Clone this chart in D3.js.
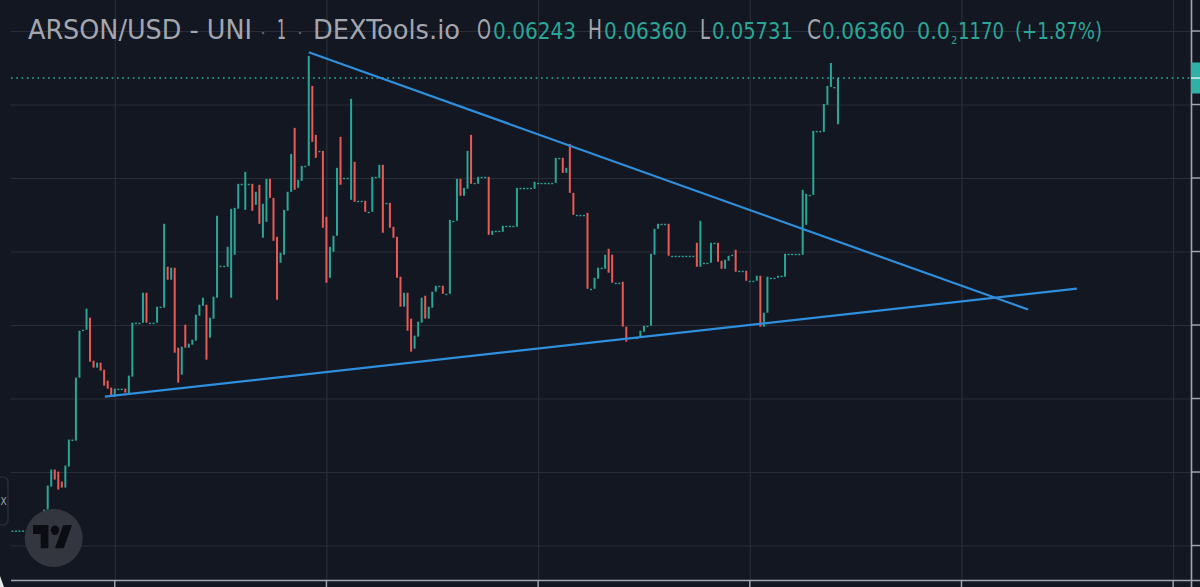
<!DOCTYPE html>
<html>
<head>
<meta charset="utf-8">
<script src="https://d3js.org/d3.v7.min.js"></script>
<style>
  html, body { margin: 0; background: #131722; overflow: hidden; }
  text { font-family: "DejaVu Sans", sans-serif; font-stretch: condensed; }
</style>
</head>
<body>
<svg id="chart" width="1200" height="587"></svg>
<script>
// candles, one per minute, bar index = position in the array
const opens = [
  .00204,.00204,.00204,.00204,.00204,.00204,.00204,.00204,.00204,.00204,
  .00489,.00802,.01033,.01006,.00870,.00788,.01074,.01441,.01427,.02284,
  .02936,.02936,.03099,.02515,.02420,.02488,.02392,.02243,.02148,.02025,
  .02134,.02134,.02134,.02066,.02297,.03031,.03031,.03031,.03439,.03031,
  .03031,.03031,.03249,.03235,.03792,.03616,.03779,.02691,.02324,.03004,
  .02691,.02732,.02787,.03126,.03262,.03276,.02827,.03086,.03371,.03806,
  .03806,.03792,.03371,.03956,.04581,.04921,.04567,.04921,.04921,.04635,
  .04907,.04187,.04404,.04989,.04730,.04200,.03847,.03956,.04554,.04812,
  .05682,.04866,.04961,.05165,.05165,.06253,.05587,.05369,.05369,.04472,
  .03643,.03996,.04214,.05560,.05002,.05002,.04703,.05220,.04690,.04690,
  .04690,.04540,.04540,.05016,.05002,.05179,.04662,.04662,.04336,.04200,
  .03657,.03249,.03439,.03086,.02678,.02841,.03031,.03398,.03086,.03235,
  .03453,.03534,.03534,.03425,.03425,.04418,.04418,.04989,.04758,.04853,
  .05587,.04934,.04921,.05016,.05016,.05016,.04227,.04282,.04282,.04268,
  .04350,.04350,.04350,.04336,.04866,.04866,.04866,.04866,.04853,.04934,
  .04934,.04934,.04934,.04934,.04934,.05274,.05274,.05070,.05464,.04798,
  .04499,.04499,.04499,.04526,.03493,.03493,.03629,.03779,.03765,.04037,
  .03956,.03575,.03575,.03589,.02977,.02827,.02827,.02827,.02827,.02909,
  .02990,.02990,.03956,.04309,.04377,.04377,.04377,.03942,.03942,.03942,
  .03942,.03942,.03942,.03942,.04119,.03792,.03847,.03847,.03847,.04119,
  .04119,.03874,.03765,.03874,.03956,.04024,.03738,.03738,.03738,.03602,
  .03602,.03602,.03670,.02977,.03167,.03643,.03643,.03643,.03670,.03657,
  .03969,.03969,.03969,.03969,.03956,.04363,.04771,.04771,.05641,.05641,
  .05628,.05995,.06239,.06239,.06243
]
const closes = [
  .00204,.00204,.00204,.00204,.00204,.00204,.00204,.00204,.00204,.00489,
  .00816,.01033,.00897,.00761,.00788,.01087,.01441,.01441,.02284,.02922,
  .02936,.03222,.02501,.02420,.02488,.02379,.02175,.02134,.02025,.02134,
  .02134,.02134,.02080,.02311,.03031,.03031,.03031,.03439,.03031,.03031,
  .03031,.03249,.03249,.04377,.03616,.03779,.02623,.02216,.02705,.02691,
  .02746,.02800,.03140,.03276,.03371,.02528,.03099,.03385,.04486,.03806,
  .03806,.04064,.04581,.04594,.04921,.04921,.05084,.04921,.04554,.04812,
  .04377,.04649,.04989,.04730,.04146,.03344,.03983,.04567,.04812,.05328,
  .04839,.04975,.05165,.05165,.06661,.05492,.05274,.05369,.04323,.03575,
  .04064,.04214,.05138,.04907,.05002,.05002,.06076,.04676,.04690,.04690,
  .04540,.04540,.05016,.05016,.05179,.04255,.04662,.04323,.04187,.03643,
  .03249,.03439,.02922,.02637,.02855,.03045,.03371,.03086,.03249,.03453,
  .03534,.03534,.03425,.03425,.04431,.04418,.04989,.04758,.04866,.05369,
  .04921,.04934,.05016,.05016,.05016,.04227,.04282,.04282,.04282,.04350,
  .04350,.04350,.04350,.04866,.04866,.04866,.04866,.04866,.04948,.04934,
  .04934,.04934,.04934,.04934,.05274,.05274,.05070,.05138,.04798,.04499,
  .04499,.04499,.04499,.03493,.03493,.03643,.03779,.03779,.03956,.03711,
  .03575,.03575,.03575,.02977,.02773,.02827,.02827,.02827,.02922,.02990,
  .02990,.03969,.04309,.04377,.04377,.04377,.03942,.03942,.03942,.03942,
  .03942,.03942,.03942,.03942,.03792,.04418,.03847,.03847,.04119,.04119,
  .03861,.03765,.03888,.03942,.03956,.03724,.03738,.03738,.03602,.03602,
  .03602,.03670,.02977,.03167,.03657,.03643,.03643,.03670,.03670,.03969,
  .03969,.03969,.03969,.03969,.04839,.04785,.04771,.05641,.05641,.05641,
  .06008,.06253,.06565,.06239,.06360
]
const lastLow = 0.05731

const priceTicks = [0, 0.01, 0.02, 0.03, 0.04, 0.05, 0.06, 0.07]
const timeTicks = [29, 89, 149, 209, 269, 329]
const trendDown = [[84, 0.0671], [287.9, 0.0321]]
const trendUp = [[26.2, 0.02025], [301.7, 0.03495]]

const bg = '#131722'
const green = '#2ba596'
const red = '#ea5a55'
const grey = '#a3a6af'
const blue = '#2f8fdc'

const svg = d3.select('#chart')
svg.append('rect').attr('width', 1200).attr('height', 587).attr('fill', bg)

const x = d3.scaleLinear().domain([0, 340]).range([12.42, 12.42 + 340 * 3.528])
const y = d3.scaleLinear().domain([0, 0.07]).range([545.5, 31])

// grid, drawn by the axes with the labels taken off
const gridY = svg.append('g').attr('transform', 'translate(11,0)')
  .call(d3.axisRight(y).tickValues(priceTicks).tickSize(1189).tickFormat(''))
const gridX = svg.append('g').attr('transform', 'translate(0,0)')
  .call(d3.axisBottom(x).tickValues(timeTicks).tickSize(587).tickFormat(''))
svg.selectAll('.domain').remove()
gridY.selectAll('line').attr('stroke', '#2a2d37').attr('stroke-width', 1.2)
gridX.selectAll('line').attr('stroke', '#2a2d37').attr('stroke-width', 1.2)

// last price line
svg.append('line')
  .attr('x1', 11).attr('x2', 1191)
  .attr('y1', y(closes[closes.length - 1])).attr('y2', y(closes[closes.length - 1]))
  .attr('stroke', '#35b3a4').attr('stroke-width', 1.5).attr('stroke-dasharray', '1.6 3.7')

// candles
svg.append('g').selectAll('rect')
  .data(opens)
  .join('rect')
  .attr('x', (d, i) => x(i) - 1)
  .attr('width', 2)
  .attr('y', (d, i) => y(Math.max(d, closes[i])))
  .attr('height', (d, i) => {
    const low = i === opens.length - 1 ? lastLow : Math.min(d, closes[i])
    return Math.max(y(low) - y(Math.max(d, closes[i])), 1.4)
  })
  .attr('fill', (d, i) => closes[i] < d ? red : green)

// trend lines
const line = d3.line().x(d => x(d[0])).y(d => y(d[1]))
svg.selectAll('path.trend')
  .data([trendDown, trendUp])
  .join('path')
  .attr('class', 'trend')
  .attr('d', line)
  .attr('fill', 'none')
  .attr('stroke', blue)
  .attr('stroke-width', 2.2)

// right and bottom scales
svg.append('line').attr('x1', 11).attr('x2', 1200).attr('y1', 580.5).attr('y2', 580.5)
  .attr('stroke', grey).attr('stroke-width', 1.6)
svg.append('line').attr('x1', 1191.5).attr('x2', 1191.5).attr('y1', 0).attr('y2', 587)
  .attr('stroke', grey).attr('stroke-width', 1.6)
svg.append('g').selectAll('line')
  .data(priceTicks)
  .join('line')
  .attr('x1', 1191.5).attr('x2', 1200).attr('y1', d => y(d)).attr('y2', d => y(d))
  .attr('stroke', grey).attr('stroke-width', 1.4)
svg.append('g').selectAll('line')
  .data(timeTicks)
  .join('line')
  .attr('x1', d => x(d)).attr('x2', d => x(d)).attr('y1', 580.5).attr('y2', 587)
  .attr('stroke', grey).attr('stroke-width', 1.4)

// last price tag on the scale
svg.append('rect').attr('x', 1191).attr('y', 62.5).attr('width', 9).attr('height', 31)
  .attr('fill', '#2fb2a3')
svg.append('rect').attr('x', 1191).attr('y', y(0.0636) - 0.7).attr('width', 9).attr('height', 1.4)
  .attr('fill', '#e6f2f0')

// header
const header = [
  ['ARSON/USD - UNI', 28, 224, grey],
  ['1', 277, 9, grey],
  ['DEXTools.io', 313, 147, grey],
  ['O', 477, 14, grey],
  ['0.06243', 493, 83, green],
  ['H', 588, 14, grey],
  ['0.06360', 604, 83, green],
  ['L', 700, 10, grey],
  ['0.05731', 712, 81, green],
  ['C', 807, 14, grey],
  ['0.06360', 822, 83, green],
  ['0.0', 917, 33, green],
  ['1170', 958, 46, green],
  ['(+1.87%)', 1015, 87, green]
]
svg.append('g').selectAll('text')
  .data(header)
  .join('text')
  .attr('x', d => d[1])
  .attr('y', 38.5)
  .attr('font-size', d => d[3] === grey ? 26 : 23)
  .attr('textLength', d => d[2])
  .attr('lengthAdjust', 'spacingAndGlyphs')
  .attr('fill', d => d[3])
  .text(d => d[0])
svg.append('text').attr('x', 951).attr('y', 44).attr('font-size', 11).attr('fill', green).text('2')
svg.append('g').selectAll('circle')
  .data([263, 300])
  .join('circle')
  .attr('cx', d => d).attr('cy', 33).attr('r', 1.3).attr('fill', '#5a5d66')

// side toggle at the left edge
svg.append('rect').attr('x', -12).attr('y', 477).attr('width', 20).attr('height', 48).attr('rx', 5)
  .attr('fill', bg).attr('stroke', '#2f323c').attr('stroke-width', 1.2)
svg.append('text').attr('x', 0.5).attr('y', 505).attr('font-size', 10).attr('fill', '#a3a6af').text('X')
svg.append('path').attr('d', 'M0 576 L4 587 L0 587 Z').attr('fill', '#e8e8ea')

// TradingView badge
svg.append('circle').attr('cx', 53.7).attr('cy', 538).attr('r', 29).attr('fill', '#33363f')
const logo = svg.append('g').attr('transform', 'translate(33,520) scale(1.1,1.28)').attr('fill', '#0b0d12')
logo.append('path').attr('d', 'M14 22H7V11H0V4h14v18z M28 22h-8l7.5-18h8L28 22z')
logo.append('circle').attr('cx', 20).attr('cy', 8).attr('r', 3.8)
</script>
</body>
</html>
